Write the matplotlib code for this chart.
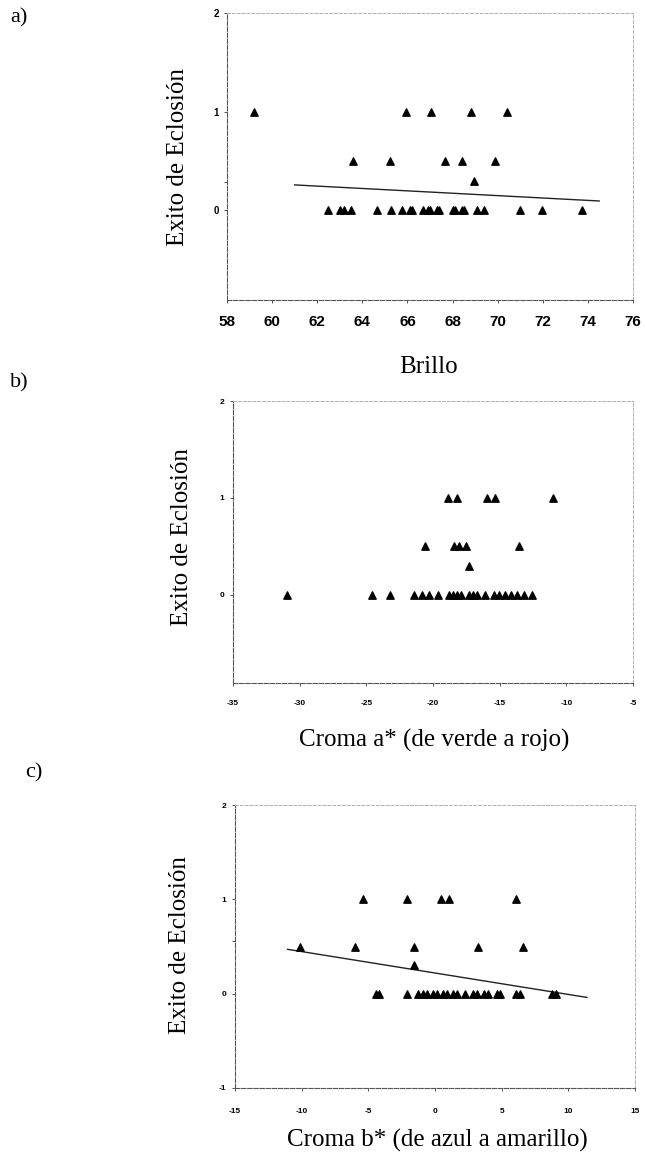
import matplotlib.pyplot as plt
import numpy as np

plt.rcParams['axes.unicode_minus'] = False

# a) Brillo
brillo_x = [59.2, 65.93, 67.05, 68.8, 70.43,
            63.58, 65.21, 67.67, 68.44, 69.87,
            68.95,
            62.47, 63.0, 63.2, 63.5, 64.65, 65.27, 65.78, 66.1, 66.2,
            66.7, 66.9, 67.0, 67.3, 67.4, 68.0, 68.1, 68.4, 68.5,
            69.1, 69.4, 71.0, 71.95, 73.75]
brillo_y = [1] * 5 + [0.5] * 5 + [0.3] + [0] * 23
brillo_fit_x = [61.0, 74.5]
brillo_fit_y = [0.257, 0.094]

# b) Croma a*
croma_a_x = [-18.85, -18.22, -15.92, -15.32, -11.02,
             -20.57, -18.42, -18.02, -17.52, -13.52,
             -17.27,
             -30.93, -24.57, -23.2, -21.4, -20.82, -20.27, -19.62,
             -18.77, -18.47, -18.17, -17.87, -17.32, -17.02, -16.72, -16.07,
             -15.42, -15.02, -14.62, -14.17, -13.72, -13.17, -12.57]
croma_a_y = [1] * 5 + [0.5] * 5 + [0.3] + [0] * 22

# c) Croma b*
croma_b_x = [-5.4, -2.1, 0.47, 1.05, 6.1,
             -10.1, -6.0, -1.55, 3.2, 6.6,
             -1.6,
             -4.45, -4.2, -2.1, -1.25, -0.93, -0.58, -0.13, 0.17, 0.58,
             0.88, 1.38, 1.68, 2.25, 2.88, 3.13, 3.68, 3.98, 4.63, 4.88,
             6.05, 6.4, 8.75, 9.1]
croma_b_y = [1] * 5 + [0.5] * 5 + [0.3] + [0] * 23
croma_b_fit_x = [-11.05, 11.4]
croma_b_fit_y = [0.47, -0.04]

W, H = 645, 1158
fig = plt.figure(figsize=(W / 100, H / 100), dpi=100)
serif = 'Liberation Serif'


def make_ax(l, t, r, b):
    ax = fig.add_axes([l / W, 1 - b / H, (r - l) / W, (b - t) / H])
    for side in ['left', 'bottom']:
        ax.spines[side].set_linestyle((0, (4, 1.5)))
        ax.spines[side].set_color('#555555')
        ax.spines[side].set_linewidth(0.8)
    for side in ['top', 'right']:
        ax.spines[side].set_linestyle((0, (3, 2)))
        ax.spines[side].set_color('#b0b0b0')
        ax.spines[side].set_linewidth(0.7)
    ax.tick_params(direction='out', length=2.5, width=0.7, color='#555555')
    ax.tick_params(which='minor', length=2.5, width=0.7, color='#555555')
    return ax


def tick_font(ax, size):
    for lab in ax.get_xticklabels() + ax.get_yticklabels():
        lab.set_fontfamily('Liberation Sans')
        lab.set_fontweight('bold')
        lab.set_fontsize(size)


def labels(ax, xlabel, xlab_x, xlab_y, ylab_x, ylab_y):
    # axis titles placed at pixel positions on the page
    ax.set_xlabel(xlabel, family=serif, fontsize=18, va='center')
    ax.xaxis.set_label_coords(xlab_x / W, 1 - xlab_y / H, transform=fig.transFigure)
    ax.set_ylabel('Exito de Eclosión', family=serif, fontsize=18, va='center')
    ax.yaxis.set_label_coords(ylab_x / W, 1 - ylab_y / H, transform=fig.transFigure)


# panel a
ax = make_ax(227, 13, 633, 300)
ax.scatter(brillo_x, brillo_y, marker='^', s=28, color='black', zorder=3)
ax.plot(brillo_fit_x, brillo_fit_y, color='#222222', lw=1.0)
ax.set_xlim(58, 76)
ax.set_ylim(-0.91, 2)
ax.set_xticks(np.arange(58, 77, 2))
ax.set_yticks([0, 1, 2])
ax.set_yticks([0.29], minor=True)
tick_font(ax, 7)
for lab in ax.get_xticklabels():
    lab.set_fontsize(11)
ax.tick_params(axis='x', pad=8)
labels(ax, 'Brillo', 429, 367, 178, 157)

# panel b
ax = make_ax(233, 401, 633, 683)
ax.scatter(croma_a_x, croma_a_y, marker='^', s=28, color='black', zorder=3)
ax.set_xlim(-35, -5)
ax.set_ylim(-0.91, 2)
ax.set_xticks(np.arange(-35, -4, 5))
ax.set_yticks([0, 1, 2])
tick_font(ax, 6)
ax.tick_params(axis='x', pad=10)
labels(ax, 'Croma a* (de verde a rojo)', 434, 740, 182, 537)

# panel c
ax = make_ax(235, 805, 635, 1088)
ax.scatter(croma_b_x, croma_b_y, marker='^', s=28, color='black', zorder=3)
ax.plot(croma_b_fit_x, croma_b_fit_y, color='#222222', lw=1.0)
ax.set_xlim(-15, 15)
ax.set_ylim(-1, 2)
ax.set_xticks(np.arange(-15, 16, 5))
ax.set_yticks([-1, 0, 1, 2])
ax.set_yticks([0.56], minor=True)
tick_font(ax, 6)
ax.tick_params(axis='x', pad=12)
labels(ax, 'Croma b* (de azul a amarillo)', 437, 1140, 180, 945)

# panel letters
for lbl, x, y in [('a)', 10, 18), ('b)', 10, 383), ('c)', 25, 773)]:
    fig.text(x / W, 1 - y / H, lbl, family=serif, fontsize=16, va='center', ha='left')

fig.savefig('out.png', dpi=100)
